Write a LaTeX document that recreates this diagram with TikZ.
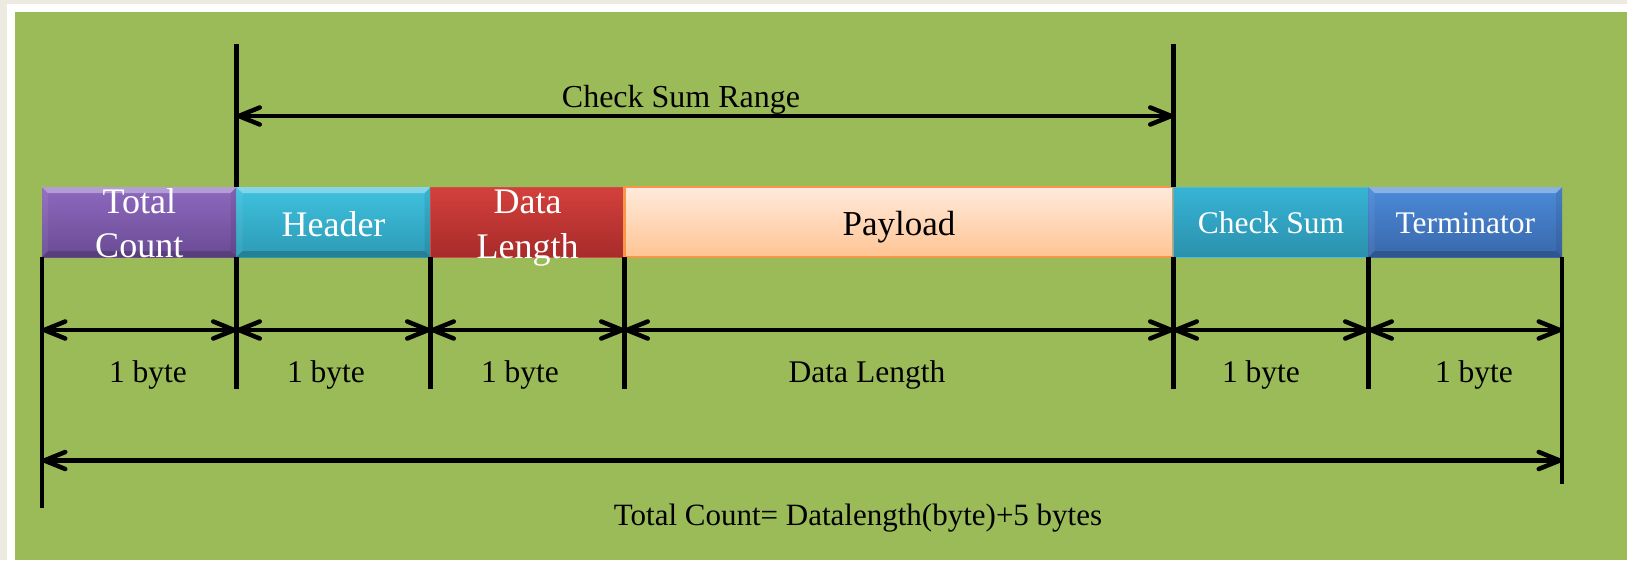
\documentclass[tikz,border=0pt]{standalone}
\usepackage{fontspec}
\setmainfont{Liberation Serif}
\usetikzlibrary{arrows.meta}

\definecolor{pagegray}{HTML}{ECEAE1}
\definecolor{slidegreen}{HTML}{9BBB59}
\definecolor{purpleTop}{HTML}{8E69BF}
\definecolor{purpleBot}{HTML}{6A4B94}
\definecolor{cyanTop}{HTML}{3FC2E0}
\definecolor{cyanBot}{HTML}{2D9AB5}
\definecolor{redTop}{HTML}{D4403C}
\definecolor{redBot}{HTML}{A72B2A}
\definecolor{redEdge}{HTML}{C8504C}
\definecolor{peachTop}{HTML}{FFEADC}
\definecolor{peachBot}{HTML}{FFC493}
\definecolor{orangeEdge}{HTML}{F79646}
\definecolor{sumTop}{HTML}{37B4D6}
\definecolor{sumBot}{HTML}{2B91AC}
\definecolor{sumEdge}{HTML}{4BBCD8}
\definecolor{blueTop}{HTML}{4B8AD8}
\definecolor{blueBot}{HTML}{3968AC}

\tikzset{
  field/.style={rectangle, inner sep=0pt, outer sep=0pt, minimum height=70pt,
    anchor=north west, text=white, font=\fontsize{36}{44}\selectfont},
  bevelled/.style={path picture={
    \fill[white, opacity=0.35]
      (path picture bounding box.north west) -- (path picture bounding box.north east)
      -- ([xshift=-6pt,yshift=-6pt]path picture bounding box.north east)
      -- ([xshift=6pt,yshift=-6pt]path picture bounding box.north west) -- cycle;
    \fill[white, opacity=0.06]
      (path picture bounding box.north west)
      -- ([xshift=6pt,yshift=-6pt]path picture bounding box.north west)
      -- ([xshift=6pt,yshift=6pt]path picture bounding box.south west)
      -- (path picture bounding box.south west) -- cycle;
    \fill[black, opacity=0.08]
      (path picture bounding box.north east)
      -- ([xshift=-6pt,yshift=-6pt]path picture bounding box.north east)
      -- ([xshift=-6pt,yshift=6pt]path picture bounding box.south east)
      -- (path picture bounding box.south east) -- cycle;
    \fill[black, opacity=0.18]
      (path picture bounding box.south west) -- (path picture bounding box.south east)
      -- ([xshift=-6pt,yshift=6pt]path picture bounding box.south east)
      -- ([xshift=6pt,yshift=6pt]path picture bounding box.south west) -- cycle;
  }},
  guide/.style={line width=4.5pt, black},
  dimarrow/.style={line width=4.5pt, black,
    {Straight Barb[length=21pt,width=17pt,round]}-{Straight Barb[length=21pt,width=17pt,round]}},
  dimlabel/.style={anchor=base, inner sep=0pt, font=\fontsize{31.5}{36}\selectfont},
}

\begin{document}
\begin{tikzpicture}[x=1pt, y=-1pt]
  % page, frame and slide background
  \useasboundingbox (0,0) rectangle (1627,560);
  \fill[pagegray] (0,0) rectangle (1627,560);
  \fill[white] (7,4) rectangle (1627,560);
  \fill[slidegreen] (15,12) rectangle (1627,560);

  % frame fields
  \node[field, bevelled, top color=purpleTop, bottom color=purpleBot, minimum width=194.5pt]
    (tc) at (42,187)
    {\raisebox{8.7pt}[0pt][0pt]{\parbox[t]{190pt}{\centering\fontsize{36}{44}\selectfont Total\\Count}}};
  \node[field, bevelled, top color=cyanTop, bottom color=cyanBot, minimum width=194pt,
        text height=28pt, text depth=0pt]
    (hd) at (236.5,187) {Header};
  \node[field, top color=redTop, bottom color=redBot, draw=redEdge, line width=1pt, minimum width=194pt]
    (dl) at (430.5,187)
    {\raisebox{8.7pt}[0pt][0pt]{\parbox[t]{190pt}{\centering\fontsize{36}{45}\selectfont Data\\Length}}};
  \node[field, top color=peachTop, bottom color=peachBot, draw=orangeEdge, line width=2.5pt,
        minimum width=549pt, text=black, font=\fontsize{35}{42}\selectfont,
        text height=26pt, text depth=0pt]
    (pl) at (624.5,187) {Payload\hspace{37pt}};
  \node[field, top color=sumTop, bottom color=sumBot, draw=sumEdge, line width=1pt,
        minimum width=195pt, font=\fontsize{31.5}{38}\selectfont,
        text height=22.6pt, text depth=0pt]
    (cs) at (1173.5,187) {Check Sum};
  \node[field, bevelled, top color=blueTop, bottom color=blueBot, minimum width=193.5pt,
        font=\fontsize{31.5}{38}\selectfont, text height=22pt, text depth=0pt]
    (tm) at (1368.5,187) {Terminator};

  % end points of the guide lines and dimension arrows
  \coordinate (t1) at (236.5,44);
  \coordinate (t4) at (1173.5,44);
  \coordinate (b0) at (42,508);
  \coordinate (b1) at (236.5,389);
  \coordinate (b2) at (430.5,389);
  \coordinate (b3) at (624.5,389);
  \coordinate (b4) at (1173.5,389);
  \coordinate (b5) at (1368.5,389);
  \coordinate (b6) at (1562,484);
  \coordinate (r1) at (236.5,116);
  \coordinate (r4) at (1173.5,116);
  \coordinate (a0) at (42,330);
  \coordinate (a1) at (236.5,330);
  \coordinate (a2) at (430.5,330);
  \coordinate (a3) at (624.5,330);
  \coordinate (a4) at (1173.5,330);
  \coordinate (a5) at (1368.5,330);
  \coordinate (a6) at (1562,330);
  \coordinate (w0) at (42,460.5);
  \coordinate (w6) at (1562,460.5);

  % guide lines
  \draw[guide] (hd.north west) -- (t1);
  \draw[guide] (cs.north west) -- (t4);
  \draw[guide] (tc.south west) -- (b0);
  \draw[guide] (hd.south west) -- (b1);
  \draw[guide] (dl.south west) -- (b2);
  \draw[guide] (pl.south west) -- (b3);
  \draw[guide] (cs.south west) -- (b4);
  \draw[guide] (tm.south west) -- (b5);
  \draw[guide] (tm.south east) -- (b6);

  % dimension arrows
  \draw[dimarrow] (r1) -- (r4);
  \draw[dimarrow] (a0) -- (a1);
  \draw[dimarrow] (a1) -- (a2);
  \draw[dimarrow] (a2) -- (a3);
  \draw[dimarrow] (a3) -- (a4);
  \draw[dimarrow] (a4) -- (a5);
  \draw[dimarrow] (a5) -- (a6);
  \draw[dimarrow] (w0) -- (w6);

  % labels
  \node[dimlabel, font=\fontsize{32}{38}\selectfont] (rangeLbl) at (681,107.7) {Check Sum Range};
  \node[dimlabel] (len0) at (148,382) {1 byte};
  \node[dimlabel] (len1) at (326,382) {1 byte};
  \node[dimlabel] (len2) at (520,382) {1 byte};
  \node[dimlabel] (len3) at (867,382) {Data Length};
  \node[dimlabel] (len4) at (1261,382) {1 byte};
  \node[dimlabel] (len5) at (1474,382) {1 byte};
  \node[dimlabel, font=\fontsize{31}{36}\selectfont] (totalLbl) at (858,525) {Total Count= Datalength(byte)+5 bytes};
\end{tikzpicture}
\end{document}
